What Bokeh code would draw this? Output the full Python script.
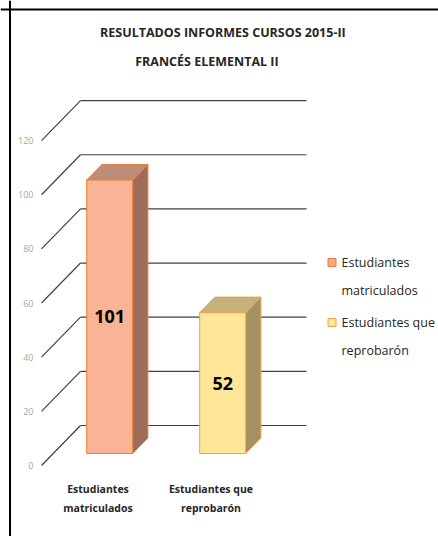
from bokeh.plotting import figure
from bokeh.models import Range1d, Span
from bokeh.core.properties import value
from bokeh.embed import file_html
from bokeh.resources import INLINE

# ---------------- data ----------------
categories = ["Estudiantes matriculados", "Estudiantes que reprobarón"]
cat_lines = [["Estudiantes", "matriculados"], ["Estudiantes que", "reprobarón"]]
values = [101, 52]
ticks = [0, 20, 40, 60, 80, 100, 120]
title_lines = ["RESULTADOS  INFORMES CURSOS 2015-II", "FRANCÉS ELEMENTAL  II"]

# ---------------- styles ----------------
front_cols = ["#F8B495", "#FFE699"]
side_cols = ["#9D6D59", "#A39161"]
top_cols = ["#BC8D78", "#C5B17B"]
edge_cols = ["#ED7D31", "#F2A04A"]
legend_fill = ["#F6A987", "#FFE699"]
grid_col = "#404040"
FONT = value("Open Sans")

W, H = 438, 536
ky = 2.7077                  # px per value unit
Y1 = 465.0 / ky
Y0 = Y1 - H / ky

x_front = 41.0               # front edge of floor (px units on x)
slot = 113.0                 # category slot width
wall_dx = 39.0               # depth of wall in px (x)
wall_dy = 40.0 / ky          # depth of wall in value units (y)
bar_w = 46.0
bar_f0 = 0.30                # depth fraction where the bar front lies
bar_f1 = 0.39                # bar depth as a fraction of wall depth

p = figure(width=W, height=H, x_range=Range1d(0, W), y_range=Range1d(Y0, Y1),
           toolbar_location=None, output_backend="svg", min_border=0,
           outline_line_color=None, background_fill_color="white",
           border_fill_color="white")
p.axis.visible = False
p.grid.visible = False

# ---------------- back wall + side slants ----------------
n = len(categories)
x_back_l = x_front + wall_dx
x_back_r = x_front + n * slot + wall_dx
p.segment(x0=[x_front] * len(ticks), y0=ticks,
          x1=[x_back_l] * len(ticks), y1=[t + wall_dy for t in ticks],
          line_color=grid_col, line_width=1.2)
p.segment(x0=[x_back_l] * len(ticks), y0=[t + wall_dy for t in ticks],
          x1=[x_back_r] * len(ticks), y1=[t + wall_dy for t in ticks],
          line_color=grid_col, line_width=1.2)

# tick labels
p.text(x=[x_front - 8] * len(ticks), y=ticks, text=[str(t) for t in ticks],
       text_font=FONT, text_font_size="9px", text_color="#A6A6A6",
       text_align="right", text_baseline="middle")

# ---------------- bars ----------------
bx = wall_dx * bar_f0
by = wall_dy * bar_f0
ddx = wall_dx * bar_f1
ddy = wall_dy * bar_f1
centers = [x_front + (i + 0.5) * slot + bx for i in range(n)]
lefts = [c - bar_w / 2 for c in centers]
rights = [c + bar_w / 2 for c in centers]
bottoms = [by] * n
tops = [v + by for v in values]

side_xs = [[r, r, r + ddx, r + ddx] for r in rights]
side_ys = [[b, t, t + ddy, b + ddy] for b, t in zip(bottoms, tops)]
top_xs = [[l, r, r + ddx, l + ddx] for l, r in zip(lefts, rights)]
top_ys = [[t, t, t + ddy, t + ddy] for t in tops]

p.patches(xs=side_xs, ys=side_ys, fill_color=side_cols, line_color=edge_cols, line_width=1)
p.patches(xs=top_xs, ys=top_ys, fill_color=top_cols, line_color=edge_cols, line_width=1)
p.quad(left=lefts, right=rights, bottom=bottoms, top=tops,
       fill_color=front_cols, line_color=edge_cols, line_width=1)

# value labels
p.text(x=centers, y=[(b + t) / 2 for b, t in zip(bottoms, tops)],
       text=[str(v) for v in values], text_font=FONT, text_font_size="18px",
       text_font_style="bold", text_color="black",
       text_align="center", text_baseline="middle")

# category labels
cat_x0 = [x_front + (i + 0.5) * slot for i in range(n)]
line_gap = 19.0 / ky
first_y = -8.6
lx, ly, lt = [], [], []
for i, lines in enumerate(cat_lines):
    for k, s in enumerate(lines):
        lx.append(cat_x0[i]); ly.append(first_y - k * line_gap); lt.append(s)
p.text(x=lx, y=ly, text=lt, text_font=FONT, text_font_size="10.5px",
       text_font_style="bold", text_color="#262626",
       text_align="center", text_baseline="middle")

# ---------------- title ----------------
title_x = [224, 208]
title_y = [(465 - 32) / ky, (465 - 61) / ky]
p.text(x=title_x, y=title_y, text=title_lines, text_font=FONT,
       text_font_size="12.5px", text_font_style="bold", text_color="#262626",
       text_align="center", text_baseline="middle")

# ---------------- legend (manual) ----------------
leg_x = 331.5
leg_y0 = (465 - 262) / ky
leg_item_gap = 60.0 / ky
leg_line_gap = 27.5 / ky
sq = 8.0
leg_sq_y = [leg_y0 - i * leg_item_gap for i in range(n)]
p.rect(x=[leg_x] * n, y=leg_sq_y, width=sq, height=sq / ky,
       fill_color=legend_fill, line_color=edge_cols, line_width=1)
tx, ty, tt = [], [], []
for i, lines in enumerate(cat_lines):
    for k, s in enumerate(lines):
        tx.append(leg_x + 9.5); ty.append(leg_sq_y[i] - k * leg_line_gap); tt.append(s)
p.text(x=tx, y=ty, text=tt, text_font=FONT, text_font_size="12.5px",
       text_color="#262626", text_align="left", text_baseline="middle")

# ---------------- border (top + left) ----------------
p.add_layout(Span(location=(465 - 9) / ky, dimension="width", line_color="black", line_width=2))
p.add_layout(Span(location=9.5, dimension="height", line_color="black", line_width=2))

open("out.html", "w").write(file_html(p, INLINE))
